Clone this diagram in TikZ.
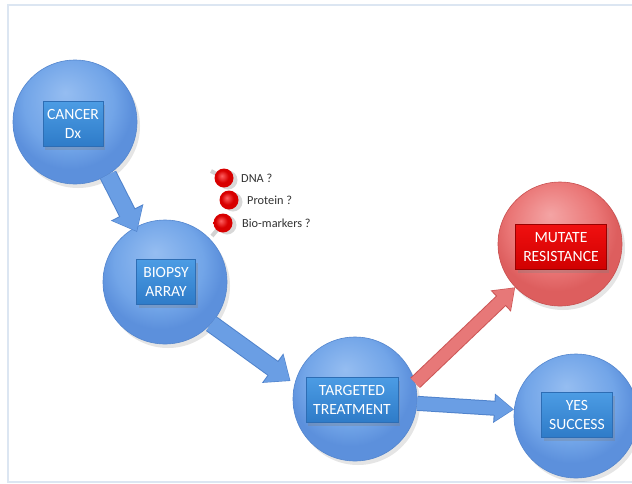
\documentclass[tikz,border=0pt]{standalone}
\usepackage{fontspec}
\setmainfont{Carlito}
\usetikzlibrary{arrows.meta,shadows,shapes.geometric}
\definecolor{frameC}{HTML}{DCE6F2}
\definecolor{cirIn}{HTML}{95BDF1}
\definecolor{cirMid}{HTML}{72A5E8}
\definecolor{cirOut}{HTML}{5C90DC}
\definecolor{cirEdge}{HTML}{5486CE}
\definecolor{redIn}{HTML}{F4A4A4}
\definecolor{redMid}{HTML}{EA7676}
\definecolor{redOut}{HTML}{DD5E5E}
\definecolor{redEdge}{HTML}{C85050}
\definecolor{boxTop}{HTML}{4C9CE4}
\definecolor{boxBot}{HTML}{2E7BC8}
\definecolor{boxEdge}{HTML}{2D6DB4}
\definecolor{rboxTop}{HTML}{F01010}
\definecolor{rboxBot}{HTML}{D00000}
\definecolor{arrB}{HTML}{6A9EE4}
\definecolor{arrBedge}{HTML}{5083CC}
\definecolor{arrR}{HTML}{E77878}
\definecolor{arrRedge}{HTML}{CC5555}
\definecolor{txtC}{HTML}{333333}
\definecolor{ballIn}{HTML}{FF6060}
\definecolor{ballOut}{HTML}{D80000}
\pgfdeclareradialshading{cshade}{\pgfpoint{-4bp}{12bp}}{color(0bp)=(cirIn); color(18bp)=(cirMid); color(25bp)=(cirOut); color(50bp)=(cirOut)}
\pgfdeclareradialshading{rshade}{\pgfpoint{-4bp}{12bp}}{color(0bp)=(redIn); color(18bp)=(redMid); color(25bp)=(redOut); color(50bp)=(redOut)}
\pgfdeclareradialshading{bshade}{\pgfpoint{-6bp}{6bp}}{color(0bp)=(ballIn); color(16bp)=(ballOut); color(25bp)=(ballOut); color(50bp)=(ballOut)}
\tikzset{
  bluecirc/.style={circle, minimum size=124pt, inner sep=0pt, draw=cirEdge, line width=0.6pt,
    shading=cshade,
    drop shadow={opacity=0.2, shadow xshift=3pt, shadow yshift=-4pt}},
  redcirc/.style={bluecirc, draw=redEdge, shading=rshade},
  lbox/.style={rectangle, inner sep=0pt, minimum height=45pt, draw=boxEdge, line width=0.6pt,
    top color=boxTop, bottom color=boxBot, text=white, align=center,
    font=\fontsize{15.6}{19}\selectfont,
    drop shadow={opacity=0.3, shadow xshift=2pt, shadow yshift=-3pt}},
  rbox/.style={lbox, draw=red!60!black, top color=rboxTop, bottom color=rboxBot},
  barrow/.style={line width=16pt, draw=arrB, -{Triangle[width=32pt,length=20pt]}},
  barrowedge/.style={line width=18pt, draw=arrBedge, -{Triangle[width=35pt,length=22pt]}},
  rarrow/.style={line width=12pt, draw=arrR, -{Triangle[width=25pt,length=18pt]}},
  rarrowedge/.style={line width=14pt, draw=arrRedge, -{Triangle[width=28pt,length=20pt]}},
  ball/.style={circle, minimum size=19pt, inner sep=0pt, shading=bshade,
    drop shadow={opacity=0.3, shadow xshift=4pt, shadow yshift=-2pt}},
  stick/.style={line width=4pt, draw=gray!35},
  smalllbl/.style={anchor=west, inner sep=0pt, text=txtC, font=\fontsize{12.3}{14}\selectfont}
}
\begin{document}
\begin{tikzpicture}[x=1pt,y=-1pt]
\useasboundingbox (0,0) rectangle (632,483);
\fill[white] (0,0) rectangle (632,483);
\draw[frameC, line width=1.6pt] (632,5) -- (8,5) -- (8,482) -- (632,482);

% circles
\node[bluecirc] (cancer) at (75,122) {};
\node[bluecirc] (biopsy) at (165,282) {};
\node[bluecirc] (target) at (355,399) {};
\node[redcirc] (mutate) at (560,244) {};
\node[bluecirc] (yes) at (576,416) {};

% arrows
\draw[barrowedge, shorten >=-5pt] (cancer.-58) -- (biopsy.119);
\draw[barrow, shorten >=-4pt] (cancer.-58) -- (biopsy.119);
\draw[barrowedge, shorten >=5pt] (biopsy.-42) -- (target.166);
\draw[barrow, shorten >=6pt] (biopsy.-42) -- (target.166);
\draw[rarrowedge] (target.15) -- (mutate.-136);
\draw[rarrow, shorten >=1pt] (target.15) -- (mutate.-136);
\draw[barrowedge, line width=15pt, -{Triangle[width=28pt,length=20pt]}] (target.-4) -- (yes.174);
\draw[barrow, line width=13pt, -{Triangle[width=25pt,length=18pt]}, shorten >=1pt] (target.-4) -- (yes.174);

% label boxes
\node[lbox, minimum width=60pt] (cancerlbl) at (73,124) {CANCER\\Dx};
\node[lbox, minimum width=59pt] (biopsylbl) at (166,282) {BIOPSY\\ARRAY};
\node[lbox, minimum width=92pt] (targetlbl) at (352,400) {TARGETED\\TREATMENT};
\node[rbox, minimum width=91pt] (mutatelbl) at (561,247) {MUTATE\\RESISTANCE};
\node[lbox, minimum width=71pt] (yeslbl) at (577,415) {YES\\SUCCESS};

% molecule
\coordinate (stubA) at (211,171);
\coordinate (stubB) at (212,236);
\draw[stick] (stubA) -- (224,178);
\draw[stick] (223,223) -- (stubB);
\node[ball] (dna) at (224,178) {};
\node[ball] (prot) at (229,200) {};
\node[ball] (bio) at (223,223) {};
\node[smalllbl] (dnalbl) at (241,178) {DNA ?};
\node[smalllbl] (protlbl) at (247,200) {Protein ?};
\node[smalllbl] (biolbl) at (242,223) {Bio-markers ?};
\end{tikzpicture}
\end{document}
